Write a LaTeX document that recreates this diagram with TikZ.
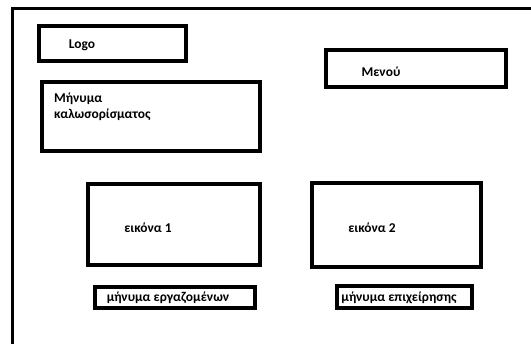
\documentclass[tikz,border=0pt]{standalone}
\usepackage{fontspec}
\setmainfont{Carlito}
\begin{document}
\begin{tikzpicture}[x=1bp, y=-1bp,
  box/.style={draw=black, line width=3.5bp, inner sep=0pt, fill=white},
  lbl/.style={font=\bfseries\fontsize{13.5}{16}\selectfont, inner sep=0pt}]
\useasboundingbox (0,0) rectangle (531,344);
\fill[white] (0,0) rectangle (531,344);
% page frame (open at right and bottom)
\draw[line width=3bp] (12.5,344) -- (12.5,8.5) -- (531,8.5);
% layout blocks
\node[box, minimum width=147bp, minimum height=35bp] (logo) at (112.5,43.5) {};
\node[box, minimum width=218bp, minimum height=69bp] (welcome) at (151,116.5) {};
\node[box, minimum width=180bp, minimum height=37bp] (menu) at (416,68.5) {};
\node[box, minimum width=172bp, minimum height=81bp] (img1) at (174,224.5) {};
\node[box, minimum width=169bp, minimum height=84bp] (img2) at (396.5,225) {};
\node[box, minimum width=160bp, minimum height=21bp] (msg1) at (175,297.5) {};
\node[box, minimum width=135bp, minimum height=22bp] (msg2) at (404.5,297) {};
% labels
\node[lbl] (logot) at (82,45) {Logo};
\node[lbl, anchor=north west, align=left] (welcomet) at (54,93) {Μήνυμα\\καλωσορίσματος};
\node[lbl] (menut) at (381,72) {Μενού};
\node[lbl] (img1t) at (148,228) {εικόνα 1};
\node[lbl] (img2t) at (372,228) {εικόνα 2};
\node[lbl] (msg1t) at (168,298) {μήνυμα εργαζομένων};
\node[lbl] (msg2t) at (399,298) {μήνυμα επιχείρησης};
\end{tikzpicture}
\end{document}
